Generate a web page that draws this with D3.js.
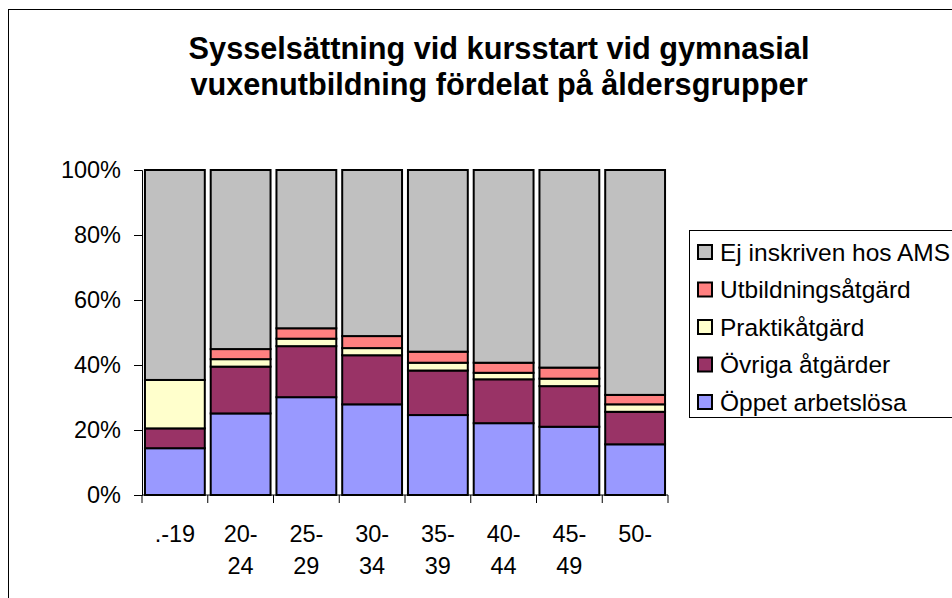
<!DOCTYPE html>
<html>
<head>
<meta charset="utf-8">
<script src="https://cdn.jsdelivr.net/npm/d3@7"></script>
<style>
  body { margin: 0; background: #fff; }
  svg { display: block; font-family: "Liberation Sans", Arial, sans-serif; }
</style>
</head>
<body>
<svg id="chart" width="952" height="598"></svg>
<script>
/* Stacked 100% columns: employment status at course start, by age group */

const categories = [".-19", "20-24", "25-29", "30-34", "35-39", "40-44", "45-49", "50-"];

// percent of each age group (bottom to top)
const oppetArbetslosa = [14.4, 25.1, 30.1, 27.9, 24.6, 22.1, 21.0, 15.6];
const ovrigaAtgarder = [6.1, 14.4, 15.7, 15.1, 13.7, 13.5, 12.5, 10.0];
const praktikatgard = [14.9, 2.3, 2.3, 2.2, 2.4, 2.0, 2.3, 2.3];
const utbildningsatgard = [0.0, 3.1, 3.2, 3.7, 3.4, 3.1, 3.4, 2.9];
const ejInskriven = [64.6, 55.1, 48.7, 51.1, 55.9, 59.3, 60.8, 69.2];

const seriesNames = ["Öppet arbetslösa", "Övriga åtgärder", "Praktikåtgärd",
                     "Utbildningsåtgärd", "Ej inskriven hos AMS"];
const seriesValues = [oppetArbetslosa, ovrigaAtgarder, praktikatgard,
                      utbildningsatgard, ejInskriven];
const seriesColors = ["#9999ff", "#993366", "#ffffcc", "#ff8080", "#c0c0c0"];

const yTicks = [0, 20, 40, 60, 80, 100];
const titleLines = ["Sysselsättning vid kursstart vid gymnasial",
                    "vuxenutbildning fördelat på åldersgrupper"];

/* layout */
const PLOT_LEFT = 142, PLOT_RIGHT = 668, PLOT_TOP = 170, PLOT_BOTTOM = 495;
const FONT = 23.5;

const svg = d3.select('#chart');

// chart frame (runs off the right and bottom edges)
svg.append('rect')
    .attr('x', 8.5).attr('y', 9.5)
    .attr('width', 1000).attr('height', 700)
    .attr('fill', 'white')
    .attr('stroke', 'black');

// title
svg.append('g').selectAll('text')
    .data(titleLines)
    .join('text')
    .attr('x', 499)
    .attr('y', (d, i) => 59 + i * 36)
    .attr('text-anchor', 'middle')
    .attr('font-weight', 'bold')
    .attr('font-size', 30.7)
    .text(d => d);

const x = d3.scaleBand()
    .domain(categories)
    .range([PLOT_LEFT, PLOT_RIGHT])
    .paddingInner(0.09)
    .paddingOuter(0.045);

const y = d3.scaleLinear()
    .domain([0, 100])
    .range([PLOT_BOTTOM, PLOT_TOP]);

// table for the stack layout
const rows = categories.map((c, i) => {
    let row = {category: c};
    seriesNames.forEach((s, j) => row[s] = seriesValues[j][i]);
    return row;
});
const stacked = d3.stack().keys(seriesNames)(rows);

// bars
svg.append('g').selectAll('g')
    .data(stacked)
    .join('g')
    .attr('fill', (d, i) => seriesColors[i])
    .selectAll('rect')
    .data(d => d)
    .join('rect')
    .attr('x', d => x(d.data.category))
    .attr('y', d => y(d[1]))
    .attr('width', x.bandwidth())
    .attr('height', d => y(d[0]) - y(d[1]))
    .attr('stroke', 'black')
    .attr('stroke-width', 2);

// y axis
const yAxis = svg.append('g')
    .attr('transform', `translate(${PLOT_LEFT},0)`)
    .call(d3.axisLeft(y)
        .tickValues(yTicks)
        .tickFormat(d => d + '%')
        .tickSize(8)
        .tickPadding(13));
yAxis.select('.domain').attr('stroke', 'black');
yAxis.selectAll('text')
    .attr('font-size', FONT)
    .attr('font-family', '"Liberation Sans", Arial, sans-serif')
    .attr('fill', 'black');

// x axis: ticks sit between the categories
const xAxis = svg.append('g');
xAxis.append('line')
    .attr('x1', PLOT_LEFT).attr('x2', PLOT_RIGHT)
    .attr('y1', PLOT_BOTTOM).attr('y2', PLOT_BOTTOM)
    .attr('stroke', 'black');
xAxis.selectAll('line.tick')
    .data(d3.range(categories.length + 1))
    .join('line')
    .attr('class', 'tick')
    .attr('x1', i => PLOT_LEFT + i * x.step())
    .attr('x2', i => PLOT_LEFT + i * x.step())
    .attr('y1', PLOT_BOTTOM)
    .attr('y2', PLOT_BOTTOM + 8)
    .attr('stroke', 'black');

// category labels wrap after the dash
const labels = xAxis.selectAll('text')
    .data(categories)
    .join('text')
    .attr('text-anchor', 'middle')
    .attr('font-size', FONT)
    .attr('y', 542);
labels.each(function(c) {
    let parts = c.startsWith('.') ? [c] : c.split('-');
    if (parts.length > 1) parts[0] += '-';
    parts = parts.filter(p => p !== '');
    d3.select(this).selectAll('tspan')
        .data(parts)
        .join('tspan')
        .attr('x', x(c) + x.bandwidth() / 2)
        .attr('dy', (d, i) => i === 0 ? 0 : 32)
        .text(d => d);
});

// legend, top entry is the top of the stack
const legend = svg.append('g');
legend.append('rect')
    .attr('x', 689.5).attr('y', 230.5)
    .attr('width', 400).attr('height', 187)
    .attr('fill', 'white')
    .attr('stroke', 'black');
const legendOrder = d3.range(seriesNames.length).reverse();
const items = legend.selectAll('g.item')
    .data(legendOrder)
    .join('g')
    .attr('class', 'item')
    .attr('transform', (d, i) => `translate(0,${252 + i * 37.5})`);
items.append('rect')
    .attr('x', 698).attr('y', -7)
    .attr('width', 14).attr('height', 14)
    .attr('fill', d => seriesColors[d])
    .attr('stroke', 'black')
    .attr('stroke-width', 2);
items.append('text')
    .attr('x', 720)
    .attr('y', 8.5)
    .attr('font-size', 24.5)
    .text(d => seriesNames[d]);
</script>
</body>
</html>
